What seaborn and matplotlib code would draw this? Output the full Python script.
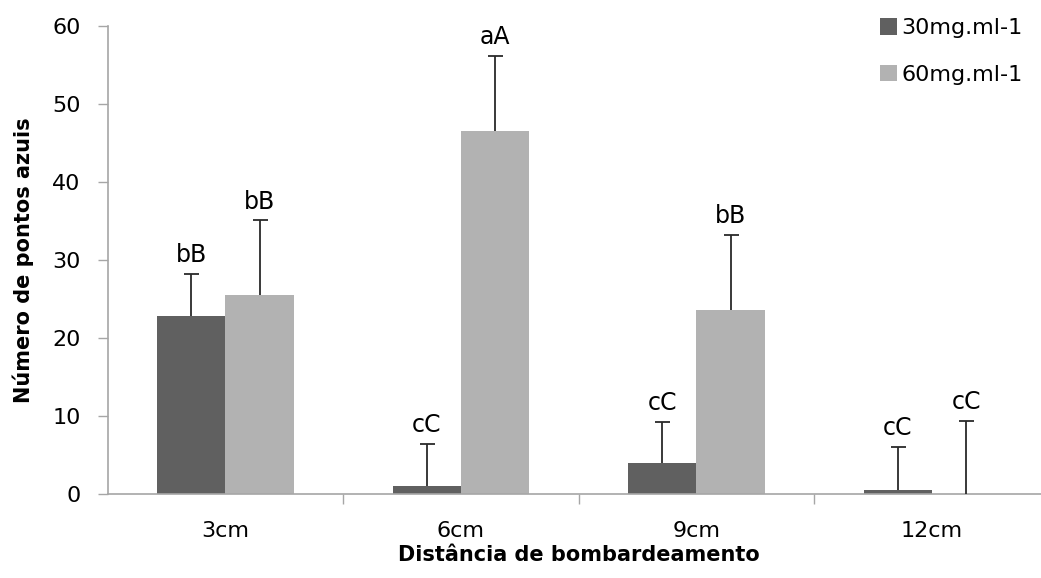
import matplotlib
matplotlib.use("Agg")
import matplotlib.pyplot as plt
import matplotlib.ticker as mticker
import seaborn as sns
import pandas as pd
import numpy as np

categories = ["3cm", "6cm", "9cm", "12cm"]
series_names = ["30mg.ml-1", "60mg.ml-1"]
values_30 = [22.9, 1.1, 4.0, 0.6]
errors_30 = [5.3, 5.35, 5.3, 5.5]
values_60 = [25.5, 46.6, 23.6, 0.0]
errors_60 = [9.6, 9.55, 9.6, 9.45]
letters_30 = ["bB", "cC", "cC", "cC"]
letters_60 = ["bB", "aA", "bB", "cC"]
y_ticks = [0, 10, 20, 30, 40, 50, 60]

sns.set_theme(style="white")
plt.rcParams["font.family"] = ["DejaVu Sans"]
plt.rcParams["text.color"] = "black"
plt.rcParams["axes.labelcolor"] = "black"

df = pd.DataFrame({
    "dist": categories * 2,
    "conc": [series_names[0]] * 4 + [series_names[1]] * 4,
    "val": values_30 + values_60,
})

W, H = 1041, 578
fig = plt.figure(figsize=(W / 100, H / 100), dpi=100)
left, right, bottom, top = 107.7, 1049.6, 494.3, 26.0
ax = fig.add_axes([left / W, (H - bottom) / H, (right - left) / W, (bottom - top) / H])

palette = {series_names[0]: "#606060", series_names[1]: "#b2b2b2"}
sns.barplot(data=df, x="dist", y="val", hue="conc", order=categories,
            hue_order=series_names, palette=palette, width=0.58,
            errorbar=None, linewidth=0, saturation=1, ax=ax)

# error bars (upper only) and letters, positioned from the bar patches
errs = {series_names[0]: errors_30, series_names[1]: errors_60}
lets = {series_names[0]: letters_30, series_names[1]: letters_60}
vals = {series_names[0]: values_30, series_names[1]: values_60}
bar_containers = list(ax.containers)
for ci, cont in enumerate(bar_containers):
    name = series_names[ci]
    for j, patch in enumerate(cont.patches):
        xc = patch.get_x() + patch.get_width() / 2
        v = vals[name][j]
        e = errs[name][j]
        eb = ax.errorbar([xc], [v], yerr=[[0], [e]], fmt="none", ecolor="#2a2a2a",
                         elinewidth=1.3, capsize=5.4, capthick=1.3, zorder=3)
        caps = eb.lines[1]
        if len(caps) == 2:
            caps[0].set_visible(False)
        ax.annotate(lets[name][j], (xc, v + e), xytext=(0, 8.5),
                    textcoords="offset points", ha="center", va="baseline",
                    fontsize=17, color="black")

ax.set_ylim(0, 60)
ax.set_yticks(y_ticks)
ax.set_xlim(-0.5, 3.5)
ax.xaxis.set_minor_locator(mticker.FixedLocator([0.5, 1.5, 2.5]))
ax.tick_params(axis="x", which="major", length=0, pad=19, labelsize=16, labelcolor="black")
ax.tick_params(axis="x", which="minor", length=7.5, width=1, color="#a6a6a6", direction="out", bottom=True)
ax.tick_params(axis="y", which="major", length=7.5, width=1, color="#a6a6a6", direction="out",
               left=True, pad=12, labelsize=16, labelcolor="black")

for s in ["top", "right"]:
    ax.spines[s].set_visible(False)
for s in ["left", "bottom"]:
    ax.spines[s].set_color("#a6a6a6")
    ax.spines[s].set_linewidth(1.2)

ax.set_xlabel("Distância de bombardeamento", fontsize=15, fontweight="bold", labelpad=3, color="black")
ax.set_ylabel("Número de pontos azuis", fontsize=15, fontweight="bold", labelpad=13, color="black")

handles, labels = ax.get_legend_handles_labels()
leg = ax.legend(handles, labels, loc="upper left", bbox_to_anchor=(871 / W, 1 - 9 / H),
                bbox_transform=fig.transFigure, frameon=False, fontsize=16,
                handlelength=0.78, handleheight=0.78, handletextpad=0.2, labelspacing=1.2,
                borderaxespad=0)
for t in leg.get_texts():
    t.set_color("black")

fig.savefig("out.png", dpi=100)
